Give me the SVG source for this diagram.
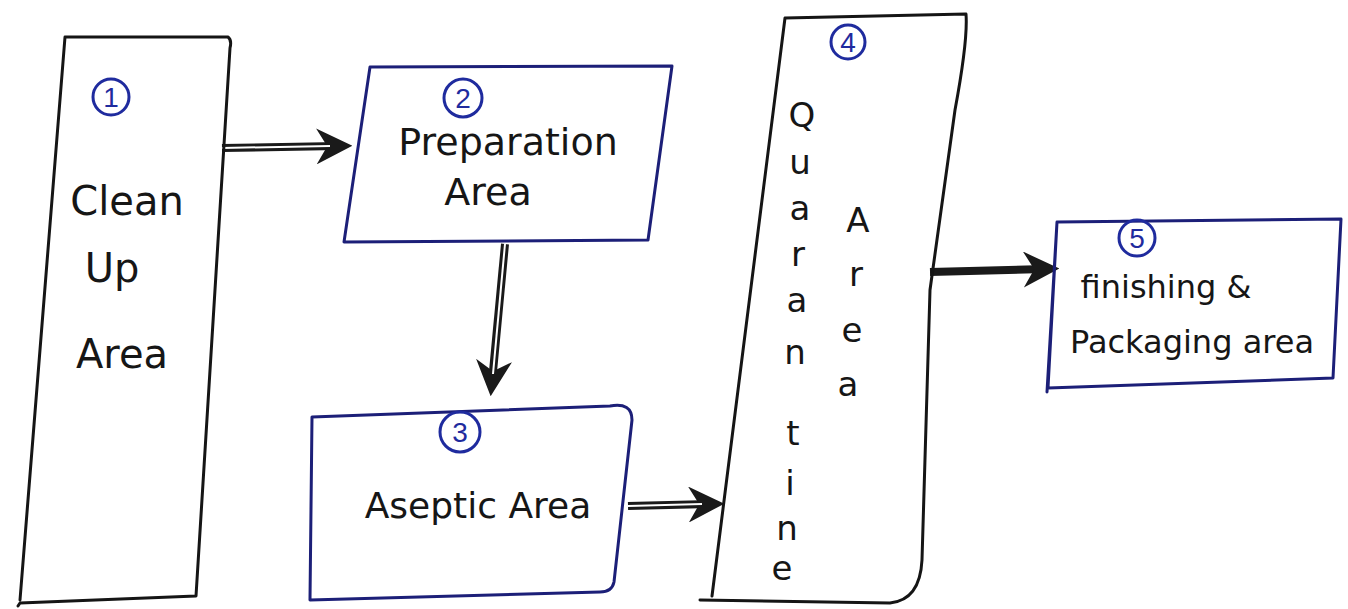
<svg xmlns="http://www.w3.org/2000/svg" width="1348" height="609" viewBox="0 0 1348 609">
<style>
.bk{fill:none;stroke:#151515;stroke-width:3;stroke-linejoin:round;stroke-linecap:round}
.bl{fill:none;stroke:#1c1f78;stroke-width:3;stroke-linejoin:round;stroke-linecap:round}
.num{fill:none;stroke:#1f2b9e;stroke-width:3}
.nt{font-family:"Liberation Sans",sans-serif;font-size:28px;fill:#1f2b9e;text-anchor:middle}
.lb{font-family:"DejaVu Sans","Liberation Sans",sans-serif;fill:#161616;text-anchor:middle}
.sh{fill:none;stroke:#1a1a1a;stroke-width:8}
.in{fill:none;stroke:#ffffff;stroke-width:2}
</style>
<defs>
<marker id="ah" viewBox="0 0 10 10" refX="6" refY="5" markerWidth="4.5" markerHeight="4.5" orient="auto" markerUnits="strokeWidth">
<path d="M0,0 L10,5 L0,10 L3,5 Z" fill="#1a1a1a"/>
</marker>
</defs>
<rect width="1348" height="609" fill="#ffffff"/>
<g id="connectors">
<path class="sh" d="M222,148 L338,146" marker-end="url(#ah)"/>
<path class="in" d="M222,148 L330,146"/>
<path class="sh" d="M505,244 L492,382" marker-end="url(#ah)"/>
<path class="in" d="M505,244 L493,374"/>
<path class="sh" d="M628,506 L710,504" marker-end="url(#ah)"/>
<path class="in" d="M628,506 L702,504"/>
<path class="sh" d="M930,272 L1045,269" marker-end="url(#ah)"/>
</g>
<g id="node1">
<path class="bk" d="M65,37 L228,37 Q232,40 230,48 L196,596 L20,603 L18,606 M65,37 L20,600"/>
<circle class="num" cx="111" cy="97" r="18"/>
<text class="nt" x="111" y="107">1</text>
<text class="lb" x="127" y="215" font-size="40">Clean</text>
<text class="lb" x="112" y="282" font-size="40">Up</text>
<text class="lb" x="122" y="368" font-size="40">Area</text>
</g>
<g id="node2">
<path class="bl" d="M370,67 L672,66 L648,240 L344,242 Z"/>
<circle class="num" cx="463" cy="98" r="19"/>
<text class="nt" x="463" y="108">2</text>
<text class="lb" x="508" y="155" font-size="38">Preparation</text>
<text class="lb" x="488" y="205" font-size="38">Area</text>
</g>
<g id="node3">
<path class="bl" d="M312,417 L610,406 Q632,402 632,420 L614,582 Q612,592 600,592 L310,600 Z"/>
<circle class="num" cx="460" cy="432" r="20"/>
<text class="nt" x="460" y="442">3</text>
<text class="lb" x="478" y="518" font-size="36">Aseptic Area</text>
</g>
<g id="node4">
<path class="bk" d="M785,18 L966,14 Q968,40 955,110 L930,290 L922,560 Q920,600 890,603 L700,600 M785,18 L712,596"/>
<circle class="num" cx="848" cy="42" r="17"/>
<text class="nt" x="848" y="52">4</text>
<g class="lb" font-size="34">
<text x="802" y="127">Q</text>
<text x="800" y="174">u</text>
<text x="800" y="220">a</text>
<text x="798" y="266">r</text>
<text x="797" y="312">a</text>
<text x="795" y="364">n</text>
<text x="793" y="445">t</text>
<text x="790" y="495">i</text>
<text x="787" y="540">n</text>
<text x="782" y="580">e</text>
<text x="858" y="232">A</text>
<text x="856" y="286">r</text>
<text x="852" y="342">e</text>
<text x="848" y="396">a</text>
</g>
</g>
<g id="node5">
<path class="bl" d="M1057,222 L1341,219 L1333,378 L1048,388 Z M1057,222 L1047,392"/>
<circle class="num" cx="1137" cy="238" r="18"/>
<text class="nt" x="1137" y="248">5</text>
<text class="lb" x="1166" y="298" font-size="32">finishing &amp;</text>
<text class="lb" x="1192" y="353" font-size="32">Packaging area</text>
</g>
</svg>
